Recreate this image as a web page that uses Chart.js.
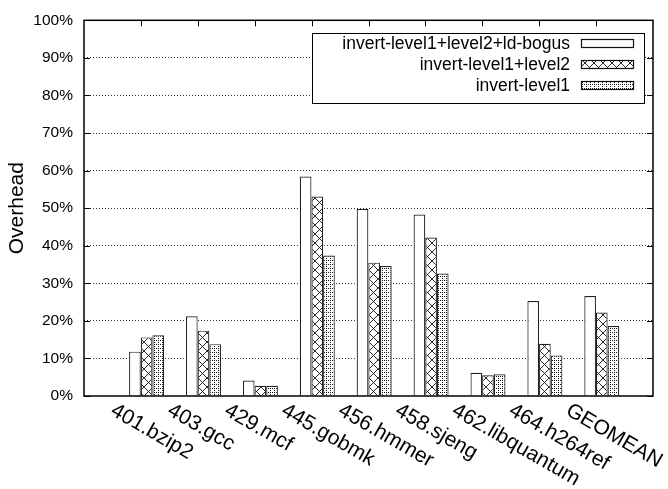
<!DOCTYPE html>
<html>
<head>
<meta charset="utf-8">
<script src="https://cdn.jsdelivr.net/npm/chart.js@4/dist/chart.umd.min.js"></script>
<style>
html,body{margin:0;padding:0;background:#fff;}
canvas{display:block;}
</style>
</head>
<body>
<canvas id="c" width="668" height="489"></canvas>
<script>
const categories = ['401.bzip2','403.gcc','429.mcf','445.gobmk','456.hmmer','458.sjeng','462.libquantum','464.h264ref','GEOMEAN'];
const seriesNames = ['invert-level1+level2+ld-bogus','invert-level1+level2','invert-level1'];
const bogusValues  = [11.8, 21.2, 4.1, 58.4, 49.8, 48.3, 6.2, 25.3, 26.6];
const level2Values = [15.6, 17.4, 2.7, 53.1, 35.5, 42.2, 5.5, 13.9, 22.2];
const level1Values = [16.2, 13.8, 2.7, 37.4, 34.6, 32.6, 5.8, 10.8, 18.6];
const yTickValues = [0,10,20,30,40,50,60,70,80,90,100];

function makeCross(){
  const t = document.createElement('canvas'); t.width = 9; t.height = 9;
  const g = t.getContext('2d');
  g.fillStyle = '#fff'; g.fillRect(0,0,9,9);
  g.strokeStyle = '#111'; g.lineWidth = 0.9;
  g.beginPath(); g.moveTo(0,0); g.lineTo(9,9); g.moveTo(9,0); g.lineTo(0,9); g.stroke();
  return g.createPattern(t,'repeat');
}
function makeDots(){
  const t = document.createElement('canvas'); t.width = 4; t.height = 4;
  const g = t.getContext('2d');
  g.fillStyle = '#fff'; g.fillRect(0,0,4,4);
  g.fillStyle = '#111';
  [[0,0],[2,2],[2,0]].forEach(p=>g.fillRect(p[0],p[1],1,1));
  return g.createPattern(t,'repeat');
}
const fills = ['#ffffff', makeCross(), makeDots()];
const seriesValues = [bogusValues, level2Values, level1Values];
const FONT = '"Liberation Sans", Arial, Helvetica, sans-serif';

const overlay = {
  id: 'overlay',
  afterDraw(chart){
    const ctx = chart.ctx, ca = chart.chartArea;
    const xs = chart.scales.x, ys = chart.scales.y;
    ctx.save();
    ctx.strokeStyle = '#000'; ctx.lineWidth = 1.5;
    ctx.strokeRect(ca.left, ca.top, ca.right - ca.left, ca.bottom - ca.top);
    ctx.lineWidth = 1;
    ctx.beginPath();
    yTickValues.forEach(v => {
      const y = Math.round(ys.getPixelForValue(v)) + 0.5;
      ctx.moveTo(ca.left, y); ctx.lineTo(ca.left + 6, y);
      ctx.moveTo(ca.right, y); ctx.lineTo(ca.right - 6, y);
    });
    categories.forEach((c, i) => {
      const x = Math.round(xs.getPixelForValue(i - 0.1)) + 0.5;
      ctx.moveTo(x, ca.top); ctx.lineTo(x, ca.top + 6);
    });
    ctx.stroke();
    ctx.fillStyle = '#000';
    ctx.font = '21px ' + FONT;
    ctx.textAlign = 'left'; ctx.textBaseline = 'top';
    categories.forEach((c, i) => {
      const x = xs.getPixelForValue(i) - 29;
      ctx.save();
      ctx.translate(x, ca.bottom + 4);
      ctx.rotate(Math.PI / 6);
      ctx.fillText(c, 0, 0);
      ctx.restore();
    });
    const lx = 312, ly = 33, lw = 332, lh = 70;
    ctx.fillStyle = '#fff';
    ctx.fillRect(lx, ly, lw, lh);
    ctx.strokeStyle = '#000'; ctx.lineWidth = 1;
    ctx.strokeRect(lx + 0.5, ly + 0.5, lw, lh);
    ctx.font = '17.5px ' + FONT;
    ctx.textAlign = 'right'; ctx.textBaseline = 'middle';
    chart.data.datasets.forEach((ds, k) => {
      const cy = 43 + k * 21;
      ctx.fillStyle = '#000';
      ctx.fillText(ds.label, 570, cy + 1);
      ctx.fillStyle = ds.backgroundColor;
      ctx.fillRect(581, cy - 4, 53, 8);
      ctx.strokeStyle = '#111'; ctx.lineWidth = 1.2;
      ctx.strokeRect(581.5, cy - 4 + 0.5, 52, 8);
    });
    ctx.restore();
  }
};

new Chart(document.getElementById('c'), {
  type: 'bar',
  data: {
    datasets: seriesNames.map((name, k) => ({
      label: name,
      data: seriesValues[k].map((v, i) => ({x: i, y: v})),
      backgroundColor: fills[k],
      borderColor: '#222',
      borderWidth: 1.2,
      categoryPercentage: 0.615,
      barPercentage: 1.0
    }))
  },
  options: {
    responsive: false,
    devicePixelRatio: 1,
    animation: false,
    layout: { padding: { left: 0, right: 15, top: 16, bottom: 0 } },
    plugins: { legend: { display: false }, tooltip: { enabled: false } },
    scales: {
      x: {
        type: 'linear',
        offset: false,
        min: -1.1, max: 8.9,
        afterBuildTicks: s => { s.ticks = categories.map((c, i) => ({value: i})); },
        afterFit: s => { s.height = 93; },
        ticks: { display: false },
        grid: { display: false, offset: false },
        border: { display: false }
      },
      y: {
        min: 0, max: 100,
        afterBuildTicks: s => { s.ticks = yTickValues.map(v => ({value: v})); },
        afterFit: s => { s.width = 84; },
        ticks: {
          callback: v => v + '%',
          color: '#000',
          padding: 11,
          font: { family: FONT, size: 15.5 }
        },
        grid: {
          drawTicks: false,
          lineWidth: 1,
          color: c => (c.tick && (c.tick.value === 0 || c.tick.value === 100)) ? 'rgba(0,0,0,0)' : '#333'
        },
        border: { display: false, dash: [1, 2] },
        title: {
          display: true,
          text: 'Overhead',
          color: '#000',
          font: { family: FONT, size: 21 },
          padding: { top: 5, bottom: 0 }
        }
      }
    }
  },
  plugins: [overlay]
});
</script>
</body>
</html>
